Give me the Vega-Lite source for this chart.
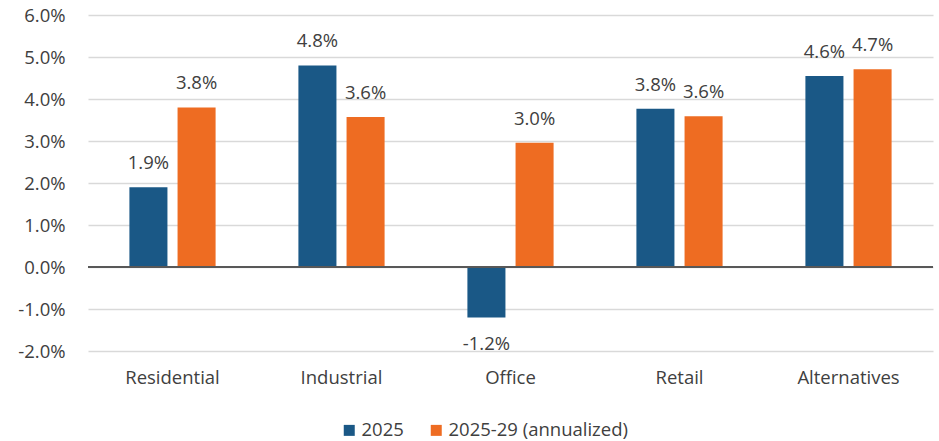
{
  "$schema": "https://vega.github.io/schema/vega-lite/v6.json",
  "width": 845,
  "height": 336,
  "autosize": {"type": "none"},
  "padding": {"left": 88, "top": 15, "right": 6, "bottom": 90},
  "background": "white",
  "config": {
    "font": "Open Sans",
    "view": {"stroke": null},
    "axis": {"labelFont": "Open Sans", "labelFontSize": 18.5, "labelColor": "#404040"}
  },
  "data": {
    "values": [
      {"category": "Residential", "series": "2025", "value": 0.019, "label": "1.9%"},
      {"category": "Residential", "series": "2025-29 (annualized)", "value": 0.038, "label": "3.8%"},
      {"category": "Industrial", "series": "2025", "value": 0.048, "label": "4.8%"},
      {"category": "Industrial", "series": "2025-29 (annualized)", "value": 0.0357, "label": "3.6%"},
      {"category": "Office", "series": "2025", "value": -0.012, "label": "-1.2%"},
      {"category": "Office", "series": "2025-29 (annualized)", "value": 0.0296, "label": "3.0%"},
      {"category": "Retail", "series": "2025", "value": 0.0377, "label": "3.8%"},
      {"category": "Retail", "series": "2025-29 (annualized)", "value": 0.0359, "label": "3.6%"},
      {"category": "Alternatives", "series": "2025", "value": 0.0455, "label": "4.6%"},
      {"category": "Alternatives", "series": "2025-29 (annualized)", "value": 0.0471, "label": "4.7%"}
    ]
  },
  "encoding": {
    "x": {
      "field": "category",
      "type": "nominal",
      "sort": ["Residential", "Industrial", "Office", "Retail", "Alternatives"],
      "scale": {"paddingInner": 0.49, "paddingOuter": 0.245},
      "axis": {"title": null, "labelAngle": 0, "ticks": false, "domain": false, "labelPadding": 17}
    },
    "xOffset": {
      "field": "series",
      "type": "nominal",
      "sort": ["2025", "2025-29 (annualized)"],
      "scale": {"paddingInner": 0.21, "paddingOuter": 0}
    },
    "y": {
      "field": "value",
      "type": "quantitative",
      "scale": {"domain": [-0.02, 0.06], "nice": false},
      "axis": {
        "title": null,
        "format": ".1%",
        "labelExpr": "replace(datum.label, '−', '-')",
        "values": [-0.02, -0.01, 0, 0.01, 0.02, 0.03, 0.04, 0.05, 0.06],
        "labelOverlap": false,
        "ticks": false,
        "domain": false,
        "grid": true,
        "gridColor": "#D9D9D9",
        "gridWidth": 1.5,
        "labelPadding": 23
      }
    }
  },
  "layer": [
    {
      "mark": {"type": "bar"},
      "encoding": {
        "color": {
          "field": "series",
          "type": "nominal",
          "sort": ["2025", "2025-29 (annualized)"],
          "scale": {"domain": ["2025", "2025-29 (annualized)"], "range": ["#1A5886", "#EE6C22"]},
          "legend": {
            "title": null,
            "orient": "none",
            "direction": "horizontal",
            "legendX": 252,
            "legendY": 406,
            "symbolType": "square",
            "symbolSize": 121,
            "symbolStrokeWidth": 0,
            "labelFont": "Open Sans",
            "labelFontSize": 18.5,
            "labelColor": "#404040",
            "labelOffset": 3,
            "labelLimit": 400,
            "columnPadding": 23
          }
        }
      }
    },
    {
      "mark": {"type": "rule", "color": "#595959", "strokeWidth": 1.5},
      "encoding": {"y": {"datum": 0}, "x": {"value": 0}, "x2": {"value": 845}, "xOffset": null}
    },
    {
      "transform": [{"filter": "datum.value >= 0"}],
      "mark": {"type": "text", "baseline": "alphabetic", "dy": -18, "fontSize": 18.5, "color": "#404040", "font": "Open Sans"},
      "encoding": {"text": {"field": "label"}}
    },
    {
      "transform": [{"filter": "datum.value < 0"}],
      "mark": {"type": "text", "baseline": "alphabetic", "dy": 33, "fontSize": 18.5, "color": "#404040", "font": "Open Sans"},
      "encoding": {"text": {"field": "label"}}
    }
  ]
}
